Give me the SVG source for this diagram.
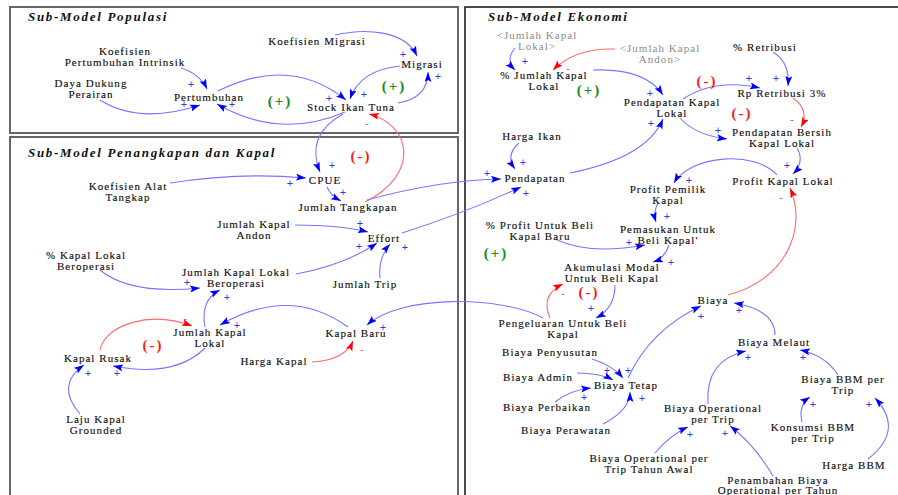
<svg xmlns="http://www.w3.org/2000/svg" width="898" height="495" viewBox="0 0 898 495">
<style>
.box{fill:none;stroke:#666;stroke-width:2}
.boxk{fill:none;stroke:#111;stroke-width:1.5}
.title{font-family:"Liberation Serif",serif;font-size:13px;font-weight:bold;font-style:italic;letter-spacing:1.7px;fill:#111}
.t{font-family:"Liberation Serif",serif;font-size:11px;letter-spacing:1.05px;fill:#111;stroke:#111;stroke-width:0.15;text-anchor:middle}
.g{font-family:"Liberation Serif",serif;font-size:11px;letter-spacing:1.05px;fill:#8a8a8a;text-anchor:middle}
.s{font-family:"Liberation Sans",sans-serif;font-size:11px;fill:#3a3ad0;text-anchor:middle}
.m{font-family:"Liberation Sans",sans-serif;font-size:11px;fill:#e05070;text-anchor:middle}
.lp{font-family:"Liberation Serif",serif;font-size:15px;font-weight:bold;letter-spacing:2px;fill:#1a8a1a;text-anchor:middle}
.ln{font-family:"Liberation Serif",serif;font-size:15px;font-weight:bold;letter-spacing:2px;fill:#ff1a1a;text-anchor:middle}
.b{fill:none;stroke:#7676ff;stroke-width:1.1;marker-end:url(#ab)}
.r{fill:none;stroke:#ff6a6a;stroke-width:1.1;marker-end:url(#ar)}
</style>
<defs>
<marker id="ab" markerUnits="userSpaceOnUse" markerWidth="11" markerHeight="8" refX="10" refY="3.5" orient="auto"><path d="M0,0 L10,3.5 L0,7 L2,3.5 z" fill="#0000ff"/></marker>
<marker id="ar" markerUnits="userSpaceOnUse" markerWidth="11" markerHeight="8" refX="10" refY="3.5" orient="auto"><path d="M0,0 L10,3.5 L0,7 L2,3.5 z" fill="#ff0000"/></marker>
</defs>
<rect width="898" height="495" fill="#fff"/>
<g id="frames">
<rect class="box" x="10" y="7" width="448" height="126"/>
<rect class="box" x="10" y="137" width="448" height="370"/>
<rect class="boxk" x="465" y="7" width="445" height="500"/>
<text class="title" x="28" y="21">Sub-Model Populasi</text>
<text class="title" x="28" y="157">Sub-Model Penangkapan dan Kapal</text>
<text class="title" x="488" y="21">Sub-Model Ekonomi</text>
</g>
<g id="connectors">
<path class="b" d="M181,68 Q200,74 207,89"/>
<path class="b" d="M100,100 Q140,125 200,105"/>
<path class="b" d="M218,91 Q290,55 346,100"/>
<path class="b" d="M345,112 Q280,140 217,104"/>
<path class="b" d="M335,35 C365,28 405,30 417,56"/>
<path class="b" d="M400,66 Q360,70 350,99"/>
<path class="b" d="M398,103 Q428,98 428,72"/>
<path class="b" d="M343,114 Q305,135 320,172"/>
<path class="b" d="M170,183 Q240,172 306,178"/>
<path class="b" d="M327,187 Q330,195 341,201"/>
<path class="r" d="M365,202 C420,175 412,125 369,114"/>
<path class="b" d="M367,200 Q440,180 501,179"/>
<path class="b" d="M295,225 Q340,225 368,232"/>
<path class="b" d="M296,274 Q345,265 377,243"/>
<path class="b" d="M380,278 Q378,258 390,244"/>
<path class="b" d="M402,233 Q465,213 521,187"/>
<path class="b" d="M100,270 Q130,295 200,288"/>
<path class="b" d="M205,327 Q200,300 220,290"/>
<path class="r" d="M100,350 C105,325 150,310 192,326"/>
<path class="b" d="M205,348 Q175,378 113,366"/>
<path class="b" d="M80,414 Q55,385 84,365"/>
<path class="b" d="M348,327 Q290,285 220,325"/>
<path class="r" d="M312,362 Q345,360 353,341"/>
<path class="b" d="M543,318 C500,295 400,295 367,325"/>
<path class="b" d="M515,48 Q505,60 515,70"/>
<path class="r" d="M615,49 Q575,48 553,70"/>
<path class="b" d="M593,70 Q645,68 663,95"/>
<path class="b" d="M683,99 Q715,78 760,88"/>
<path class="b" d="M773,52 Q790,62 788,86"/>
<path class="r" d="M793,98 Q810,110 801,127"/>
<path class="b" d="M680,118 Q695,135 727,139"/>
<path class="b" d="M797,148 Q805,162 793,174"/>
<path class="b" d="M777,175 C755,150 690,155 674,183"/>
<path class="b" d="M658,203 Q653,212 656,222"/>
<path class="b" d="M557,240 Q590,255 645,245"/>
<path class="b" d="M669,245 Q665,258 653,262"/>
<path class="b" d="M615,285 Q615,308 596,318"/>
<path class="r" d="M550,318 Q540,295 563,284"/>
<path class="b" d="M519,143 Q505,155 515,169"/>
<path class="b" d="M570,173 C610,165 650,150 663,119"/>
<path class="b" d="M592,359 Q612,365 623,378"/>
<path class="b" d="M577,373 Q600,373 613,380"/>
<path class="b" d="M555,402 Q570,390 591,388"/>
<path class="b" d="M603,424 Q630,410 630,392"/>
<path class="b" d="M628,378 Q650,330 701,306"/>
<path class="b" d="M775,335 Q775,310 734,303"/>
<path class="r" d="M728,295 C785,280 808,230 790,188"/>
<path class="b" d="M708,404 Q705,360 746,351"/>
<path class="b" d="M838,375 Q825,355 800,350"/>
<path class="b" d="M802,422 Q798,405 810,397"/>
<path class="b" d="M868,459 Q905,430 875,398"/>
<path class="b" d="M655,453 Q670,435 688,427"/>
<path class="b" d="M773,476 Q755,445 730,426"/>
</g>
<g id="signs">
<text class="s" x="191" y="88">+</text><text class="s" x="184" y="108">+</text><text class="s" x="232" y="108">+</text>
<text class="s" x="329" y="102">+</text><text class="s" x="364" y="98">+</text><text class="s" x="403" y="58">+</text><text class="s" x="438" y="80">+</text>
<text class="m" x="367" y="127">-</text>
<text class="s" x="290" y="187">+</text><text class="s" x="332" y="169">+</text><text class="s" x="343" y="196">+</text>
<text class="s" x="360" y="227">+</text><text class="s" x="359" y="250">+</text><text class="s" x="405" y="251">+</text>
<text class="s" x="187" y="286">+</text><text class="s" x="227" y="301">+</text><text class="s" x="237" y="329">+</text>
<text class="s" x="88" y="377">+</text><text class="s" x="117" y="377">+</text><text class="s" x="383" y="331">+</text>
<text class="m" x="185" y="322">-</text><text class="m" x="362" y="353">-</text>
<text class="s" x="525" y="65">+</text><text class="s" x="650" y="97">+</text><text class="s" x="651" y="127">+</text>
<text class="s" x="749" y="82">+</text><text class="s" x="776" y="82">+</text><text class="s" x="718" y="134">+</text>
<text class="s" x="787" y="169">+</text><text class="s" x="689" y="184">+</text><text class="s" x="667" y="220">+</text>
<text class="s" x="629" y="246">+</text><text class="s" x="523" y="166">+</text><text class="s" x="487" y="177">+</text>
<text class="s" x="526" y="197">+</text><text class="s" x="671" y="266">+</text><text class="s" x="591" y="312">+</text>
<text class="s" x="607" y="374">+</text><text class="s" x="628" y="374">+</text><text class="s" x="584" y="401">+</text>
<text class="s" x="642" y="402">+</text><text class="s" x="690" y="438">+</text><text class="s" x="725" y="437">+</text>
<text class="s" x="701" y="320">+</text><text class="s" x="739" y="314">+</text><text class="s" x="748" y="361">+</text>
<text class="s" x="803" y="361">+</text><text class="s" x="813" y="408">+</text><text class="s" x="869" y="408">+</text>
<text class="m" x="568" y="72">-</text><text class="m" x="792" y="123">-</text><text class="m" x="781" y="201">-</text><text class="m" x="563" y="297">-</text>
</g>
<g id="loops">
<text class="lp" x="280" y="106">(+)</text><text class="lp" x="394" y="91">(+)</text><text class="lp" x="589" y="95">(+)</text><text class="lp" x="496" y="258">(+)</text>
<text class="ln" x="361" y="161">(-)</text><text class="ln" x="153" y="350">(-)</text><text class="ln" x="707" y="86">(-)</text><text class="ln" x="742" y="118">(-)</text><text class="ln" x="589" y="297">(-)</text>
</g>
<g id="n-koef-pert"><text class="t" x="125" y="55">Koefisien</text><text class="t" x="125" y="66">Pertumbuhan Intrinsik</text></g>
<g id="n-daya"><text class="t" x="91" y="87">Daya Dukung</text><text class="t" x="91" y="98">Perairan</text></g>
<g id="n-pertumbuhan"><text class="t" x="209" y="101">Pertumbuhan</text></g>
<g id="n-koef-migrasi"><text class="t" x="317" y="45">Koefisien Migrasi</text></g>
<g id="n-migrasi"><text class="t" x="422" y="68">Migrasi</text></g>
<g id="n-stock"><text class="t" x="351" y="111">Stock Ikan Tuna</text></g>
<g id="n-koef-alat"><text class="t" x="128" y="190">Koefisien Alat</text><text class="t" x="128" y="201">Tangkap</text></g>
<g id="n-cpue"><text class="t" x="325" y="184">CPUE</text></g>
<g id="n-tangkapan"><text class="t" x="348" y="211">Jumlah Tangkapan</text></g>
<g id="n-andon"><text class="t" x="254" y="228">Jumlah Kapal</text><text class="t" x="254" y="239">Andon</text></g>
<g id="n-effort"><text class="t" x="384" y="242">Effort</text></g>
<g id="n-trip"><text class="t" x="365" y="288">Jumlah Trip</text></g>
<g id="n-pct-kapal"><text class="t" x="86" y="259">% Kapal Lokal</text><text class="t" x="86" y="270">Beroperasi</text></g>
<g id="n-jklb"><text class="t" x="236" y="276">Jumlah Kapal Lokal</text><text class="t" x="236" y="287">Beroperasi</text></g>
<g id="n-jkl"><text class="t" x="210" y="336">Jumlah Kapal</text><text class="t" x="210" y="347">Lokal</text></g>
<g id="n-rusak"><text class="t" x="98" y="362">Kapal Rusak</text></g>
<g id="n-harga-kapal"><text class="t" x="274" y="365">Harga Kapal</text></g>
<g id="n-kapal-baru"><text class="t" x="356" y="337">Kapal Baru</text></g>
<g id="n-laju"><text class="t" x="96" y="423">Laju Kapal</text><text class="t" x="96" y="434">Grounded</text></g>
<g id="n-g-jkl"><text class="g" x="537" y="39">&lt;Jumlah Kapal</text><text class="g" x="537" y="50">Lokal&gt;</text></g>
<g id="n-g-jka"><text class="g" x="660" y="52">&lt;Jumlah Kapal</text><text class="g" x="660" y="63">Andon&gt;</text></g>
<g id="n-pct-jkl"><text class="t" x="544" y="79">% Jumlah Kapal</text><text class="t" x="544" y="90">Lokal</text></g>
<g id="n-pkl"><text class="t" x="672" y="106">Pendapatan Kapal</text><text class="t" x="672" y="117">Lokal</text></g>
<g id="n-pct-ret"><text class="t" x="765" y="51">% Retribusi</text></g>
<g id="n-rp"><text class="t" x="782" y="97">Rp Retribusi 3%</text></g>
<g id="n-bersih"><text class="t" x="782" y="136">Pendapatan Bersih</text><text class="t" x="782" y="147">Kapal Lokal</text></g>
<g id="n-profit-kl"><text class="t" x="783" y="185">Profit Kapal Lokal</text></g>
<g id="n-profit-pk"><text class="t" x="668" y="193">Profit Pemilik</text><text class="t" x="668" y="204">Kapal</text></g>
<g id="n-pemasukan"><text class="t" x="668" y="233">Pemasukan Untuk</text><text class="t" x="668" y="244">Beli Kapal'</text></g>
<g id="n-harga-ikan"><text class="t" x="532" y="140">Harga Ikan</text></g>
<g id="n-pendapatan"><text class="t" x="535" y="182">Pendapatan</text></g>
<g id="n-pct-profit"><text class="t" x="540" y="229">% Profit Untuk Beli</text><text class="t" x="540" y="240">Kapal Baru</text></g>
<g id="n-akumulasi"><text class="t" x="612" y="271">Akumulasi Modal</text><text class="t" x="612" y="282">Untuk Beli Kapal</text></g>
<g id="n-pengeluaran"><text class="t" x="563" y="327">Pengeluaran Untuk Beli</text><text class="t" x="563" y="338">Kapal</text></g>
<g id="n-penyusutan"><text class="t" x="550" y="356">Biaya Penyusutan</text></g>
<g id="n-admin"><text class="t" x="538" y="381">Biaya Admin</text></g>
<g id="n-tetap"><text class="t" x="626" y="389">Biaya Tetap</text></g>
<g id="n-perbaikan"><text class="t" x="547" y="411">Biaya Perbaikan</text></g>
<g id="n-perawatan"><text class="t" x="566" y="434">Biaya Perawatan</text></g>
<g id="n-op-trip"><text class="t" x="713" y="412">Biaya Operational</text><text class="t" x="713" y="423">per Trip</text></g>
<g id="n-op-awal"><text class="t" x="649" y="462">Biaya Operational per</text><text class="t" x="649" y="473">Trip Tahun Awal</text></g>
<g id="n-biaya"><text class="t" x="713" y="304">Biaya</text></g>
<g id="n-melaut"><text class="t" x="774" y="346">Biaya Melaut</text></g>
<g id="n-bbm-trip"><text class="t" x="843" y="383">Biaya BBM per</text><text class="t" x="843" y="394">Trip</text></g>
<g id="n-konsumsi"><text class="t" x="813" y="431">Konsumsi BBM</text><text class="t" x="813" y="442">per Trip</text></g>
<g id="n-harga-bbm"><text class="t" x="854" y="469">Harga BBM</text></g>
<g id="n-penambahan"><text class="t" x="778" y="484">Penambahan Biaya</text><text class="t" x="778" y="494">Operational per Tahun</text></g>
</svg>
